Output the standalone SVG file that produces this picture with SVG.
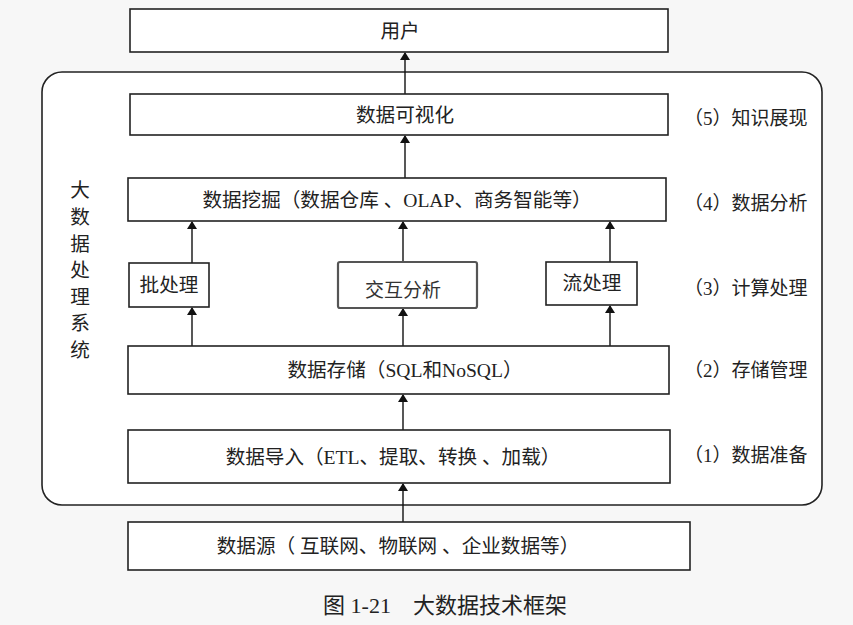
<svg xmlns="http://www.w3.org/2000/svg" width="853" height="625" viewBox="0 0 853 625">
<defs>
<marker id="arr" markerWidth="8" markerHeight="10" refX="7" refY="5" orient="auto" markerUnits="userSpaceOnUse"><path d="M0,0 L8,5 L0,10 Z" fill="#111"/></marker>
<style>
.box{fill:#fff;stroke:#222;stroke-width:1.6}
.t{font-family:"Liberation Serif","Noto Sans CJK SC",serif;font-size:19.6px;fill:#222;text-anchor:middle;dominant-baseline:central}
.side{font-family:"Liberation Serif","Noto Sans CJK SC",serif;font-size:19px;fill:#222;dominant-baseline:central}
.c{stroke:#111;stroke-width:1.4;fill:none;marker-end:url(#arr)}
</style>
</defs>
<rect width="853" height="625" fill="#f7f7f7"/>
<rect x="42" y="72" width="780" height="433" rx="20" fill="#fff" stroke="#222" stroke-width="1.6"/>
<g id="connectors">
<line class="c" x1="405" y1="94" x2="405" y2="53"/>
<line class="c" x1="405" y1="178" x2="405" y2="136"/>
<line class="c" x1="192" y1="263" x2="192" y2="222"/>
<line class="c" x1="403" y1="262" x2="403" y2="222"/>
<line class="c" x1="610" y1="262" x2="610" y2="222"/>
<line class="c" x1="192" y1="346" x2="192" y2="308"/>
<line class="c" x1="403" y1="346" x2="403" y2="309"/>
<line class="c" x1="610" y1="346" x2="610" y2="306"/>
<line class="c" x1="403" y1="430" x2="403" y2="395"/>
<line class="c" x1="403" y1="522" x2="403" y2="484"/>
</g>
<g id="user"><rect class="box" x="130" y="9" width="538" height="43"/><text class="t" x="400" y="31">用户</text></g>
<g id="system-label"><text class="t" x="80" y="190">大</text><text class="t" x="80" y="217">数</text><text class="t" x="80" y="244">据</text><text class="t" x="80" y="270">处</text><text class="t" x="80" y="297">理</text><text class="t" x="80" y="323">系</text><text class="t" x="80" y="350">统</text></g>
<g id="visual"><rect class="box" x="130" y="94" width="538" height="41"/><text class="t" x="405" y="115">数据可视化</text><text class="side" x="684" y="118">（5）知识展现</text></g>
<g id="mining"><rect class="box" x="128" y="178" width="538" height="43"/><text class="t" x="397" y="200">数据挖掘（数据仓库 、OLAP、商务智能等）</text><text class="side" x="684" y="203">（4）数据分析</text></g>
<g id="batch"><rect class="box" x="129" y="263" width="80" height="44"/><text class="t" x="169" y="285">批处理</text></g>
<g id="interactive"><rect x="338" y="262" width="139" height="46" rx="2" fill="#fff" stroke="#555" stroke-width="2.2"/><text x="403" y="288" font-family="'Noto Sans CJK SC',sans-serif" font-size="19" fill="#333" text-anchor="middle" dominant-baseline="central">交互分析</text></g>
<g id="stream"><rect class="box" x="546" y="262" width="91" height="43"/><text class="t" x="592" y="283">流处理</text><text class="side" x="684" y="288">（3）计算处理</text></g>
<g id="storage"><rect class="box" x="128" y="346" width="541" height="48"/><text class="t" x="405" y="370">数据存储（SQL和NoSQL）</text><text class="side" x="684" y="370">（2）存储管理</text></g>
<g id="import"><rect class="box" x="128" y="430" width="542" height="53"/><text class="t" x="393" y="457">数据导入（ETL、提取、转换 、加载）</text><text class="side" x="684" y="455">（1）数据准备</text></g>
<g id="source"><rect class="box" x="128" y="522" width="562" height="48"/><text class="t" x="398" y="546">数据源（ 互联网、物联网 、企业数据等）</text></g>
<text class="t" x="445" y="605" style="font-size:22px">图 1-21　大数据技术框架</text>
</svg>
